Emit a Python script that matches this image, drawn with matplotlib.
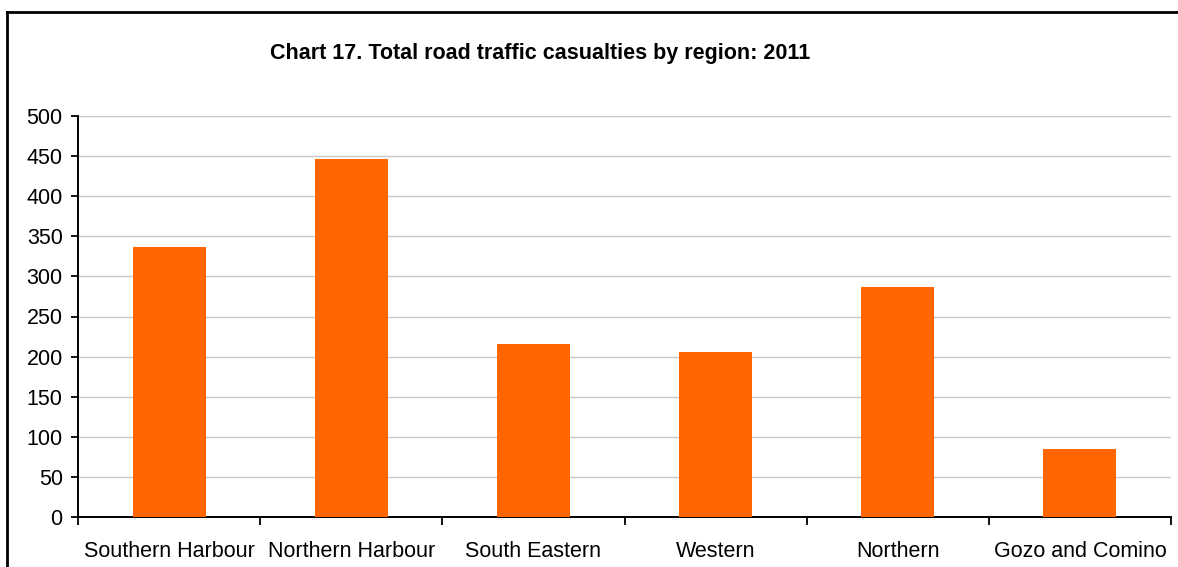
import matplotlib
matplotlib.use('Agg')
import matplotlib.pyplot as plt
from matplotlib.lines import Line2D
import numpy as np

regions = ['Southern Harbour', 'Northern Harbour', 'South Eastern', 'Western', 'Northern', 'Gozo and Comino']
casualties = [337, 446, 216, 206, 287, 85]
yticks = list(range(0, 501, 50))

plt.rcParams['font.family'] = ['Liberation Sans', 'DejaVu Sans']

fig = plt.figure(figsize=(11.78, 5.67), dpi=100)
ax = fig.add_axes([78/1178, 1-517/567, (1171-78)/1178, (517-116)/567])

x = np.arange(len(regions))
ax.bar(x, casualties, width=0.40, color='#FF6600', zorder=3)

ax.set_xlim(-0.5, len(regions)-0.5)
ax.set_ylim(0, 500)
ax.set_yticks(yticks)
ax.set_yticklabels([str(v) for v in yticks], fontsize=15.5)
ax.yaxis.grid(True, color='#C8C8C8', linewidth=1.0, zorder=0)

ax.set_xticks(x)
ax.set_xticklabels(regions, fontsize=15.5)
ax.set_xticks(np.arange(len(regions)+1)-0.5, minor=True)
ax.tick_params(axis='x', which='major', length=0, pad=17)
ax.tick_params(axis='x', which='minor', length=6, width=1.3, direction='out')
ax.tick_params(axis='y', length=5, width=1.3, direction='out', pad=6)

for s in ['top', 'right']:
    ax.spines[s].set_visible(False)
for s in ['left', 'bottom']:
    ax.spines[s].set_linewidth(1.4)

fig.text(540/1178, 1-53/567, 'Chart 17. Total road traffic casualties by region: 2011',
         ha='center', va='center', fontsize=15.5, fontweight='bold')

# outer frame (left and top edges)
fig.add_artist(Line2D([7/1178, 7/1178], [0, 1-12/567], transform=fig.transFigure, color='black', linewidth=2))
fig.add_artist(Line2D([7/1178, 1], [1-12/567, 1-12/567], transform=fig.transFigure, color='black', linewidth=2))

fig.savefig('out.png', dpi=100)
